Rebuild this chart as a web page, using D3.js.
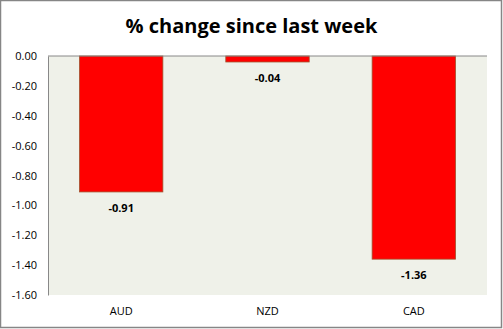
<!DOCTYPE html>
<html>
<head>
<meta charset="utf-8">
<script src="https://cdn.jsdelivr.net/npm/d3@7"></script>
<style>
  html, body { margin: 0; padding: 0; background: #fff; }
  svg { display: block; }
</style>
</head>
<body>
<div id="chart"></div>
<script>
// Weekly percentage change per currency
const categories = ["AUD", "NZD", "CAD"];
const values = [-0.91, -0.04, -1.36];
const tickValues = [0, -0.2, -0.4, -0.6, -0.8, -1.0, -1.2, -1.4, -1.6];
const title = "% change since last week";

const W = 503, H = 329;
const plot = { left: 48, right: 487, top: 56, bottom: 295 };
const font = "'Open Sans', 'Liberation Sans', sans-serif";

const svg = d3.select("#chart").append("svg")
  .attr("width", W).attr("height", H);

// outer frame
svg.append("rect")
  .attr("x", 0.5).attr("y", 0.5)
  .attr("width", W - 2).attr("height", H - 2)
  .attr("fill", "#fff").attr("stroke", "#868686").attr("stroke-width", 1.5);

// plot background
svg.append("rect")
  .attr("x", plot.left).attr("y", plot.top)
  .attr("width", plot.right - plot.left).attr("height", plot.bottom - plot.top)
  .attr("fill", "#eff1e9");

const x = d3.scaleBand().domain(categories)
  .range([plot.left, plot.right]).paddingInner(0.43).paddingOuter(0.215);
const y = d3.scaleLinear().domain([-1.6, 0]).range([plot.bottom, plot.top]);

// bars
svg.append("g").selectAll("rect")
  .data(categories.map((c, i) => ({ c, v: values[i] })))
  .join("rect")
  .attr("x", d => x(d.c))
  .attr("y", y(0))
  .attr("width", x.bandwidth())
  .attr("height", d => y(d.v) - y(0))
  .attr("fill", "#ff0000")
  .attr("stroke", "#a0522d").attr("stroke-width", 0.8);

// value labels beneath each bar
svg.append("g").selectAll("text")
  .data(categories.map((c, i) => ({ c, v: values[i] })))
  .join("text")
  .attr("x", d => x(d.c) + x.bandwidth() / 2)
  .attr("y", d => y(d.v) + 20)
  .attr("text-anchor", "middle")
  .attr("font-family", font).attr("font-size", 11).attr("font-weight", "bold")
  .attr("fill", "#000")
  .text(d => d3.format(".2f")(d.v).replace("−", "-"));

// y axis
const yAxis = d3.axisLeft(y).tickValues(tickValues).tickSize(0).tickPadding(11)
  .tickFormat(d => d3.format(".2f")(d).replace("−", "-"));
const gy = svg.append("g").attr("transform", `translate(${plot.left},0)`).call(yAxis);
gy.select(".domain").attr("stroke", "#888");
gy.selectAll("text").attr("font-family", font).attr("font-size", 11).attr("fill", "#000");

// zero line along the top
svg.append("line")
  .attr("x1", plot.left).attr("x2", plot.right)
  .attr("y1", y(0)).attr("y2", y(0))
  .attr("stroke", "#888");

// x axis category labels
const xAxis = d3.axisBottom(x).tickSize(0).tickPadding(12);
const gx = svg.append("g").attr("transform", `translate(0,${plot.bottom})`).call(xAxis);
gx.select(".domain").remove();
gx.selectAll("text").attr("font-family", font).attr("font-size", 11).attr("fill", "#000");

// title
svg.append("text")
  .attr("x", W / 2).attr("y", 33)
  .attr("text-anchor", "middle")
  .attr("font-family", font).attr("font-size", 20).attr("font-weight", "bold")
  .attr("fill", "#000")
  .text(title);
</script>
</body>
</html>
